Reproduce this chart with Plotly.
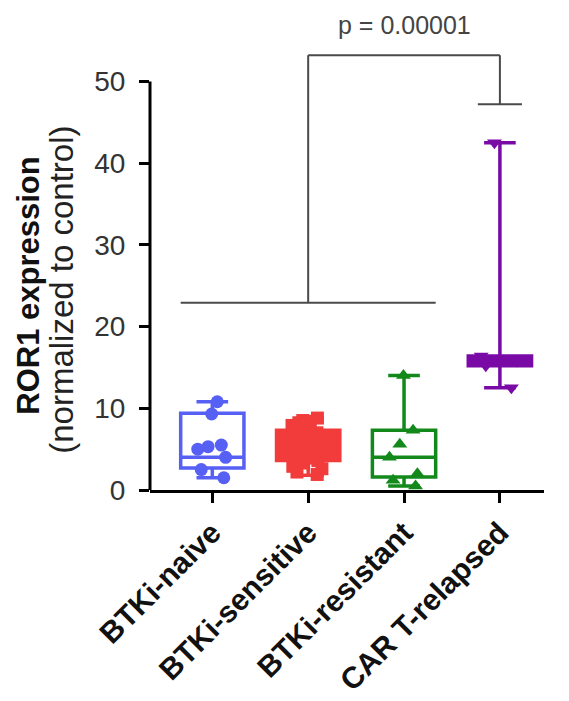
import plotly.graph_objects as go

# categories and colours
categories = ["BTKi-naive", "BTKi-sensitive", "BTKi-resistant", "CAR T-relapsed"]
colors = ["#5660F4", "#F23C3C", "#12891A", "#7A0AA6"]
symbols = ["circle", "square", "triangle-up", "triangle-down"]

# box stats (whiskers = min..max)
q1 = [2.7, 3.6, 1.6, 15.2]
median = [4.0, 5.3, 4.0, 15.8]
q3 = [9.4, 7.3, 7.3, 16.4]
lower = [1.5, 1.8, 0.5, 12.5]
upper = [10.8, 8.8, 14.0, 42.5]

# individual samples
naive_pts = [10.8, 9.3, 5.5, 5.3, 5.0, 4.0, 2.5, 1.5]
sensitive_pts = [8.8, 8.5, 8.4, 7.9, 7.6, 7.5, 7.0, 6.8, 6.6, 6.3, 6.0, 5.8, 5.6,
                 5.5, 5.3, 5.1, 4.9, 4.6, 4.4, 4.2, 3.9, 3.6, 3.3, 2.9, 2.6, 2.2, 1.9]
resistant_pts = [14.0, 7.3, 5.6, 4.0, 2.0, 1.2, 0.5]
relapsed_pts = [42.5, 16.4, 15.8, 15.2, 12.5]
samples = [naive_pts, sensitive_pts, resistant_pts, relapsed_pts]

# significance bracket
p_text = "p = 0.00001"
bracket_low = 22.9
bracket_high = 53.2
bracket_cap = 47.2

FONT = "Arial, Liberation Sans, sans-serif"
BOX_W = 0.66

fig = go.Figure()

for i, cat in enumerate(categories):
    fill = colors[i] if i in (1, 3) else "white"
    fig.add_trace(go.Box(
        x=[cat], q1=[q1[i]], median=[median[i]], q3=[q3[i]],
        lowerfence=[lower[i]], upperfence=[upper[i]],
        boxpoints=False, width=BOX_W, whiskerwidth=0.5,
        fillcolor=fill, line=dict(color=colors[i], width=3.5),
        showlegend=False,
    ))
    fig.add_trace(go.Box(
        x=[cat] * len(samples[i]), y=samples[i],
        boxpoints="all", jitter=0.7, pointpos=0, width=BOX_W,
        fillcolor="rgba(0,0,0,0)", line=dict(color="rgba(0,0,0,0)", width=0),
        marker=dict(color=colors[i], symbol=symbols[i], size=13),
        showlegend=False,
    ))

# bracket: naive..resistant group vs CAR T-relapsed
left = 0 - BOX_W / 2
right = 2 + BOX_W / 2
mid = 1
tgt = 3
line_style = dict(color="#4a4a4a", width=2)
for x0, y0, x1, y1 in [
    (left, bracket_low, right, bracket_low),
    (mid, bracket_low, mid, bracket_high),
    (mid, bracket_high, tgt, bracket_high),
    (tgt, bracket_high, tgt, bracket_cap),
    (tgt - 0.23, bracket_cap, tgt + 0.23, bracket_cap),
]:
    fig.add_shape(type="line", xref="x", yref="y", x0=x0, y0=y0, x1=x1, y1=y1,
                  line=line_style)

# y axis line only up to 50
fig.add_shape(type="line", xref="paper", yref="y", x0=0, x1=0, y0=0, y1=50,
              line=dict(color="black", width=3))

fig.add_annotation(x=(mid + tgt) / 2, y=bracket_high + 3.7, xref="x", yref="y",
                   text=p_text, showarrow=False,
                   font=dict(family=FONT, size=25, color="#444"))

fig.add_annotation(xref="paper", yref="y", x=0, y=25, xshift=-121,
                   xanchor="center", yanchor="middle",
                   text="<b>ROR1 expression</b>", textangle=-90, showarrow=False,
                   font=dict(family=FONT, size=31, color="#111"))
fig.add_annotation(xref="paper", yref="y", x=0, y=24.5, xshift=-88,
                   xanchor="center", yanchor="middle",
                   text="(normalized to control)", textangle=-90, showarrow=False,
                   font=dict(family=FONT, size=33, color="#222"))

fig.update_layout(
    width=569, height=701,
    margin=dict(l=142, r=33, t=8, b=219),
    plot_bgcolor="white", paper_bgcolor="white",
    boxmode="overlay",
    font=dict(family=FONT, color="#222"),
)
fig.update_xaxes(
    type="category", categoryorder="array", categoryarray=categories,
    range=[-0.65, 3.46], showline=True, linecolor="black", linewidth=3,
    ticks="outside", ticklen=10, tickwidth=3, tickcolor="black",
    tickangle=-45, tickfont=dict(family=FONT, size=30, color="#111"),
    ticktext=["<b>%s</b>" % c for c in categories], tickvals=categories,
    showgrid=False, zeroline=False, automargin=False,
)
fig.update_yaxes(
    range=[0, 58], tickvals=[0, 10, 20, 30, 40, 50],
    showline=False, ticks="outside", ticklen=10, tickwidth=3, tickcolor="black",
    tickfont=dict(family=FONT, size=28, color="#333"), ticklabelstandoff=8,
    showgrid=False, zeroline=False, automargin=False,
)

fig.write_html("out.html")
